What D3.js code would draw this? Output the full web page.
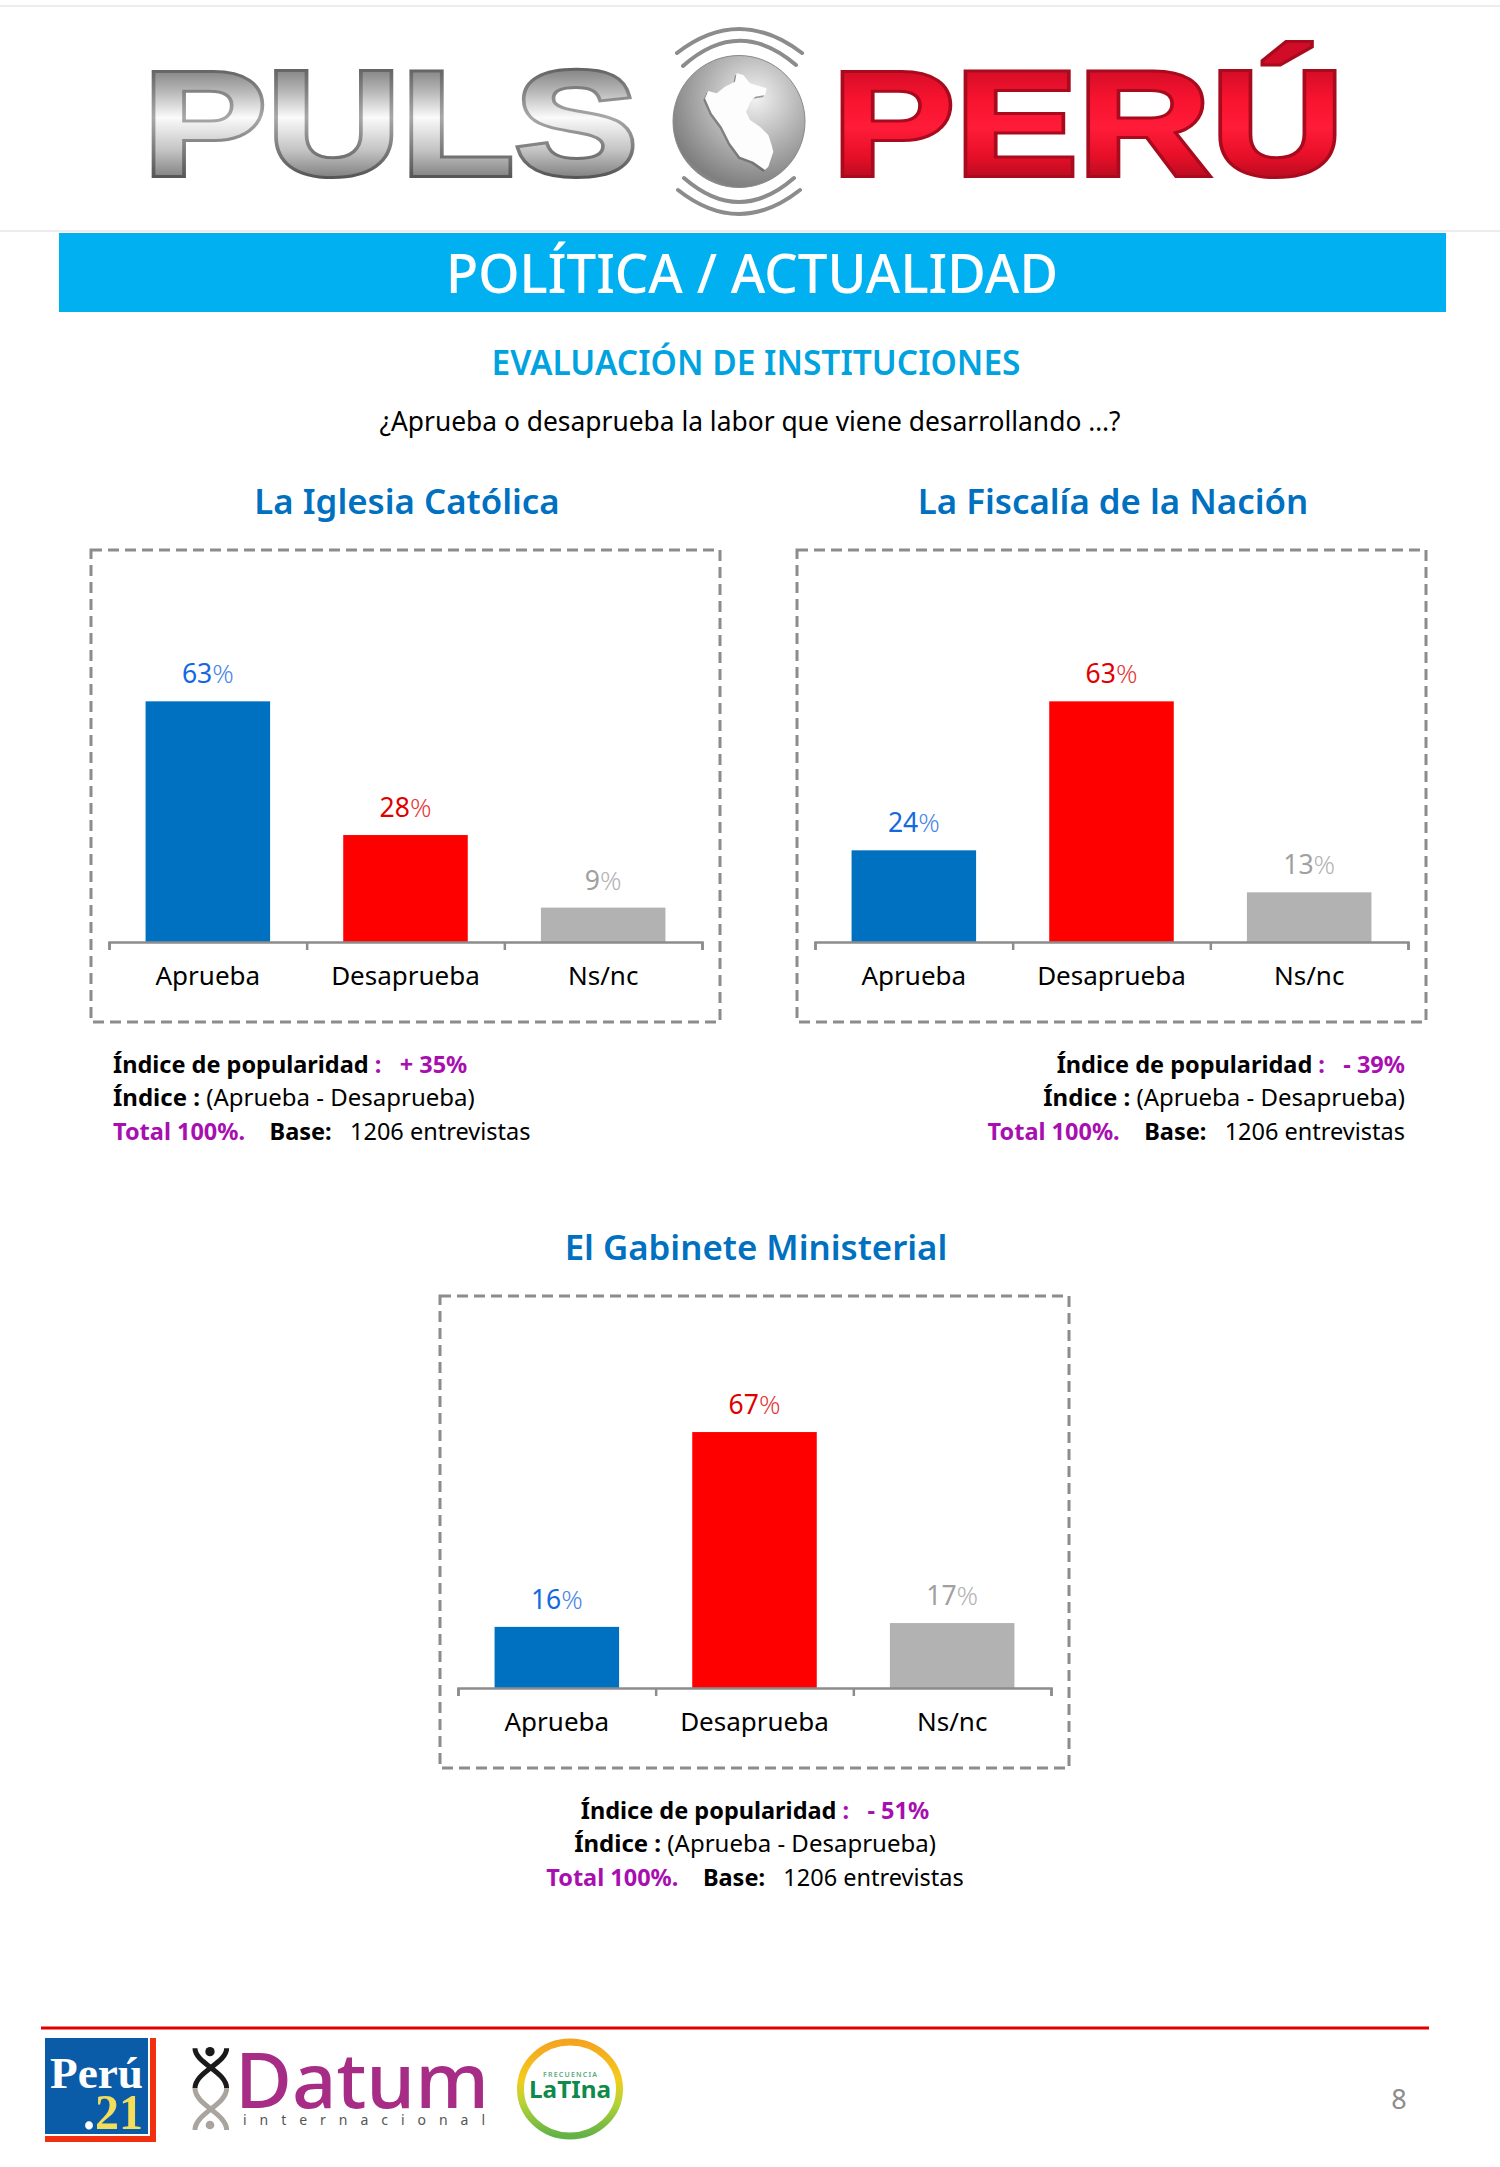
<!DOCTYPE html>
<html>
<head>
<meta charset="utf-8">
<title>Pulso Perú</title>
<script src="https://cdnjs.cloudflare.com/ajax/libs/d3/7.8.5/d3.min.js"></script>
<style>
  html, body { margin: 0; padding: 0; background: #fff; }
  svg { display: block; }
  text { font-family: "Noto Sans", "Open Sans", sans-serif; white-space: pre; }
</style>
</head>
<body>
<div id="page"></div>
<script>
const WIDTH = 1500;
const HEIGHT = 2167;

// values
const categories = ["Aprueba", "Desaprueba", "Ns/nc"];
const iglesiaValues = [63, 28, 9];
const fiscaliaValues = [24, 63, 13];
const gabineteValues = [16, 67, 17];
const chartTitles = ["La Iglesia Católica", "La Fiscalía de la Nación", "El Gabinete Ministerial"];
const indexLabels = ["+ 35%", "- 39%", "- 51%"];
const barColors = ["#0070c0", "#ff0000", "#b2b2b2"];
const labelColors = ["#1468e0", "#e00000", "#a0a0a0"];

const svg = d3.select("#page").append("svg")
    .attr("width", WIDTH)
    .attr("height", HEIGHT)
    .attr("viewBox", `0 0 ${WIDTH} ${HEIGHT}`);

const defs = svg.append("defs");

function addGradient(id, stops, attrs, type = "linearGradient") {
    const g = defs.append(type).attr("id", id);
    Object.entries(attrs).forEach(([k, v]) => g.attr(k, v));
    stops.forEach(([o, c]) => g.append("stop").attr("offset", o).attr("stop-color", c));
}

addGradient("silver", [[0, "#7d7d7d"], [0.22, "#b5b5b5"], [0.46, "#fafafa"], [0.75, "#c4c4c4"], [1, "#808080"]],
    { gradientUnits: "userSpaceOnUse", x1: 0, y1: 66, x2: 0, y2: 178 });
addGradient("silverEdge", [[0, "#5f5f5f"], [0.46, "#a8a8a8"], [1, "#555"]],
    { gradientUnits: "userSpaceOnUse", x1: 0, y1: 66, x2: 0, y2: 178 });
addGradient("ruby", [[0, "#d00c26"], [0.3, "#f8132f"], [0.55, "#ff1c38"], [0.8, "#e80f28"], [1, "#b80c20"]],
    { gradientUnits: "userSpaceOnUse", x1: 0, y1: 66, x2: 0, y2: 178 });
addGradient("globe", [[0, "#f2f2f2"], [0.45, "#b4b4b4"], [0.85, "#7f7f7f"], [1, "#9a9a9a"]],
    { cx: 0.62, cy: 0.32, r: 0.8 }, "radialGradient");
addGradient("ring", [[0, "#f5a41f"], [0.4, "#f3cc1c"], [0.65, "#b5d335"], [1, "#62b246"]],
    { x1: 0, y1: 0, x2: 0, y2: 1 });

// ---- header ----
svg.append("line").attr("x1", 0).attr("x2", WIDTH).attr("y1", 6).attr("y2", 6)
    .attr("stroke", "#e6e6e6").attr("stroke-width", 1.5);
svg.append("line").attr("x1", 0).attr("x2", WIDTH).attr("y1", 231).attr("y2", 231)
    .attr("stroke", "#e6e6e6").attr("stroke-width", 1.5);

const logo = svg.append("g").attr("class", "logo");

function logoWord(word, x, len, fill, stroke) {
    logo.append("text")
        .attr("x", x).attr("y", 175)
        .attr("textLength", len).attr("lengthAdjust", "spacingAndGlyphs")
        .style("font-family", "'Liberation Sans', sans-serif")
        .style("font-weight", 700).style("font-size", "149px")
        .style("paint-order", "stroke")
        .attr("fill", fill).attr("stroke", stroke).attr("stroke-width", 6)
        .attr("stroke-linejoin", "miter")
        .text(word);
}
logoWord("PULS", 143, 495, "url(#silver)", "url(#silverEdge)");
logoWord("PERÚ", 832, 512, "url(#ruby)", "#a80a1e");

// globe with its signal arcs and the map of Peru
logo.append("circle").attr("cx", 739).attr("cy", 121.5).attr("r", 66)
    .attr("fill", "url(#globe)").attr("stroke", "#8a8a8a");
const mapShape = "M290,160 L310,165 L330,190 L380,205 L375,225 L345,230 L330,250 L318,275 L330,300 L360,320 L385,345 L395,375 L400,395 L385,440 L375,450 L340,425 L300,410 L270,370 L245,320 L215,280 L195,235 L205,213 L230,220 L255,200 L285,185 Z";
const mapGroup = logo.append("g").attr("transform", "translate(640,20) scale(0.3333)");
mapGroup.append("path").attr("d", mapShape).attr("fill", "#555").attr("transform", "translate(-5,6)").attr("opacity", 0.55);
mapGroup.append("path").attr("d", mapShape).attr("fill", "#fdfdfd");
[ "M677,53 Q739,5 802,53", "M683,66 Q739,16 796,65",
  "M684,178 Q739,226 794,178", "M678,190 Q739,238 800,190" ].forEach(d => {
    logo.append("path").attr("d", d).attr("fill", "none")
        .attr("stroke", "#8c8c8c").attr("stroke-width", 4).attr("stroke-linecap", "round");
});

svg.append("rect").attr("x", 59).attr("y", 233).attr("width", 1387).attr("height", 79).attr("fill", "#00b0f0");
svg.append("text").attr("x", 752).attr("y", 293).attr("text-anchor", "middle")
    .attr("textLength", 612).attr("lengthAdjust", "spacingAndGlyphs")
    .style("font-size", "54px").style("font-weight", 500).attr("fill", "#fff").text("POLÍTICA / ACTUALIDAD");
svg.append("text").attr("x", 756).attr("y", 375).attr("text-anchor", "middle")
    .attr("textLength", 529).attr("lengthAdjust", "spacingAndGlyphs")
    .style("font-size", "35px").style("font-weight", 600).attr("fill", "#00a3e0").text("EVALUACIÓN DE INSTITUCIONES");
svg.append("text").attr("x", 750).attr("y", 431).attr("text-anchor", "middle")
    .attr("textLength", 741).attr("lengthAdjust", "spacingAndGlyphs")
    .style("font-size", "28px").attr("fill", "#000").text("¿Aprueba o desaprueba la labor que viene desarrollando …?");

// ---- charts ----
const y = d3.scaleLinear().domain([0, 100]).range([0, 382]);

function drawChart(opts) {
    const { left, top, values, title, titleX, titleY, index, align, noteX } = opts;
    const boxWidth = 629, boxHeight = 472;
    const g = svg.append("g").attr("transform", `translate(${left},${top})`);

    svg.append("text").attr("x", titleX).attr("y", titleY).attr("text-anchor", "middle")
        .style("font-size", "34.8px").style("font-weight", 600).attr("fill", "#0070c0").text(title);

    g.append("rect").attr("width", boxWidth).attr("height", boxHeight)
        .attr("fill", "none").attr("stroke", "#8c8c8c").attr("stroke-width", 3)
        .attr("stroke-dasharray", "11 6");

    const axisLeft = 18, axisRight = 611, baseline = 392;
    const x = d3.scaleBand().domain(categories).range([axisLeft, axisRight])
        .paddingInner(0.37).paddingOuter(0.185);

    g.selectAll("rect.bar").data(values).join("rect")
        .attr("class", "bar")
        .attr("x", (d, i) => x(categories[i]))
        .attr("y", d => baseline - y(d))
        .attr("width", x.bandwidth())
        .attr("height", d => y(d))
        .attr("fill", (d, i) => barColors[i]);

    // value labels, the % sign is drawn lighter
    const labels = g.selectAll("text.value").data(values).join("text")
        .attr("class", "value")
        .attr("x", (d, i) => x(categories[i]) + x.bandwidth() / 2)
        .attr("y", d => baseline - y(d) - 18)
        .attr("text-anchor", "middle")
        .style("font-size", "26.5px")
        .attr("fill", (d, i) => labelColors[i]);
    labels.append("tspan").text(d => d);
    labels.append("tspan").style("font-weight", 300).attr("fill-opacity", 0.8).text("%");

    // tick marks sit between the categories
    const edges = d3.scaleLinear().domain([0, categories.length]).range([axisLeft, axisRight]);
    g.append("g").attr("transform", `translate(0,${baseline})`)
        .call(d3.axisBottom(edges).tickValues(d3.range(categories.length + 1)).tickSize(8).tickSizeOuter(8).tickFormat(""))
        .call(a => a.selectAll(".domain, .tick line").attr("stroke", "#8c8c8c").attr("stroke-width", 2.5));

    g.append("g").attr("transform", `translate(0,${baseline})`)
        .call(d3.axisBottom(x).tickSize(0).tickPadding(25))
        .call(a => a.select(".domain").remove())
        .call(a => a.selectAll("text").style("font-size", "26px").style("font-family", null).attr("fill", "#000"));

    // notes under the box
    const notes = [
        [["Índice de popularidad", "#000", 700], [" :   ", "#a80fb0", 700], [index, "#a80fb0", 700]],
        [["Índice :", "#000", 700], [" (Aprueba - Desaprueba)", "#000", 400]],
        [["Total 100%.", "#a80fb0", 700], ["    ", "#000", 400], ["Base:", "#000", 700], ["   1206 entrevistas", "#000", 400]]
    ];
    const noteRows = svg.selectAll(null).data(notes).enter().append("text")
        .attr("x", noteX)
        .attr("y", (d, i) => top + 522.5 + i * 33.5)
        .attr("text-anchor", align)
        .style("font-size", (d, i) => i === 1 ? "24px" : "23.5px");
    noteRows.selectAll("tspan").data(d => d).join("tspan")
        .attr("fill", d => d[1]).style("font-weight", d => d[2]).text(d => d[0]);
}

drawChart({ left: 91, top: 550, values: iglesiaValues, title: chartTitles[0], titleX: 407, titleY: 514, index: indexLabels[0], align: "start", noteX: 113 });
drawChart({ left: 797, top: 550, values: fiscaliaValues, title: chartTitles[1], titleX: 1113, titleY: 514, index: indexLabels[1], align: "end", noteX: 1405 });
drawChart({ left: 440, top: 1296, values: gabineteValues, title: chartTitles[2], titleX: 756, titleY: 1260, index: indexLabels[2], align: "middle", noteX: 755 });

// ---- footer ----
svg.append("line").attr("x1", 41).attr("x2", 1429).attr("y1", 2028).attr("y2", 2028)
    .attr("stroke", "#e00000").attr("stroke-width", 3);

const foot = svg.append("g").attr("class", "footer-logos");
foot.append("rect").attr("x", 45).attr("y", 2038).attr("width", 111).attr("height", 104).attr("fill", "#f03010");
foot.append("rect").attr("x", 45).attr("y", 2038).attr("width", 105).attr("height", 98).attr("fill", "#fff");
foot.append("rect").attr("x", 45).attr("y", 2038).attr("width", 103).attr("height", 96).attr("fill", "#0b5ca8");
foot.append("text").attr("x", 50).attr("y", 2088).style("font-family", "'Liberation Serif', serif")
    .style("font-weight", 700).style("font-size", "44px").attr("fill", "#fff")
    .attr("textLength", 93).attr("lengthAdjust", "spacingAndGlyphs").text("Perú");
const peru21 = foot.append("text").attr("x", 83).attr("y", 2129).style("font-family", "'Liberation Serif', serif")
    .style("font-weight", 700).style("font-size", "50px").attr("fill", "#f2de5a")
    .attr("textLength", 60).attr("lengthAdjust", "spacingAndGlyphs");
peru21.append("tspan").attr("fill", "#fff").text(".");
peru21.append("tspan").text("21");

// datum figure
const helix = foot.append("g").attr("transform", "translate(30,2030) scale(0.3333)").attr("fill", "none").attr("stroke-width", 15);
helix.append("path").attr("d", "M495,55 C495,100 590,125 590,175").attr("stroke", "#1a1a1a");
helix.append("path").attr("d", "M590,55 C590,100 495,125 495,175").attr("stroke", "#1a1a1a");
helix.append("path").attr("d", "M590,175 C590,225 495,250 495,300").attr("stroke", "#aaa49e");
helix.append("path").attr("d", "M495,175 C495,225 590,250 590,300").attr("stroke", "#aaa49e");
helix.append("circle").attr("cx", 540).attr("cy", 65).attr("r", 14).attr("fill", "#1a1a1a").attr("stroke", "none");
helix.append("circle").attr("cx", 540).attr("cy", 285).attr("r", 13).attr("fill", "#aaa49e").attr("stroke", "none");

foot.append("text").attr("x", 235).attr("y", 2108).style("font-size", "77px").style("font-weight", 500)
    .attr("fill", "#a62c86").attr("textLength", 254).attr("lengthAdjust", "spacingAndGlyphs").text("Datum");
foot.append("text").attr("x", 243).attr("y", 2125).style("font-size", "14px").attr("fill", "#555")
    .attr("textLength", 242).text("internacional");

// latina ring
foot.append("ellipse").attr("cx", 570).attr("cy", 2089).attr("rx", 49.5).attr("ry", 47)
    .attr("fill", "none").attr("stroke", "url(#ring)").attr("stroke-width", 7);
foot.append("text").attr("x", 570).attr("y", 2077).attr("text-anchor", "middle").style("font-size", "7px")
    .style("font-weight", 600).attr("fill", "#5aaa7a").attr("textLength", 54).text("FRECUENCIA");
foot.append("text").attr("x", 570).attr("y", 2098).attr("text-anchor", "middle").style("font-size", "24px")
    .style("font-weight", 700).attr("fill", "#0f8a4a").attr("textLength", 82).attr("lengthAdjust", "spacingAndGlyphs").text("LaTIna");

svg.append("text").attr("x", 1399).attr("y", 2109).attr("text-anchor", "middle").style("font-size", "27px")
    .attr("fill", "#8c8c8c").text("8");
</script>
</body>
</html>
